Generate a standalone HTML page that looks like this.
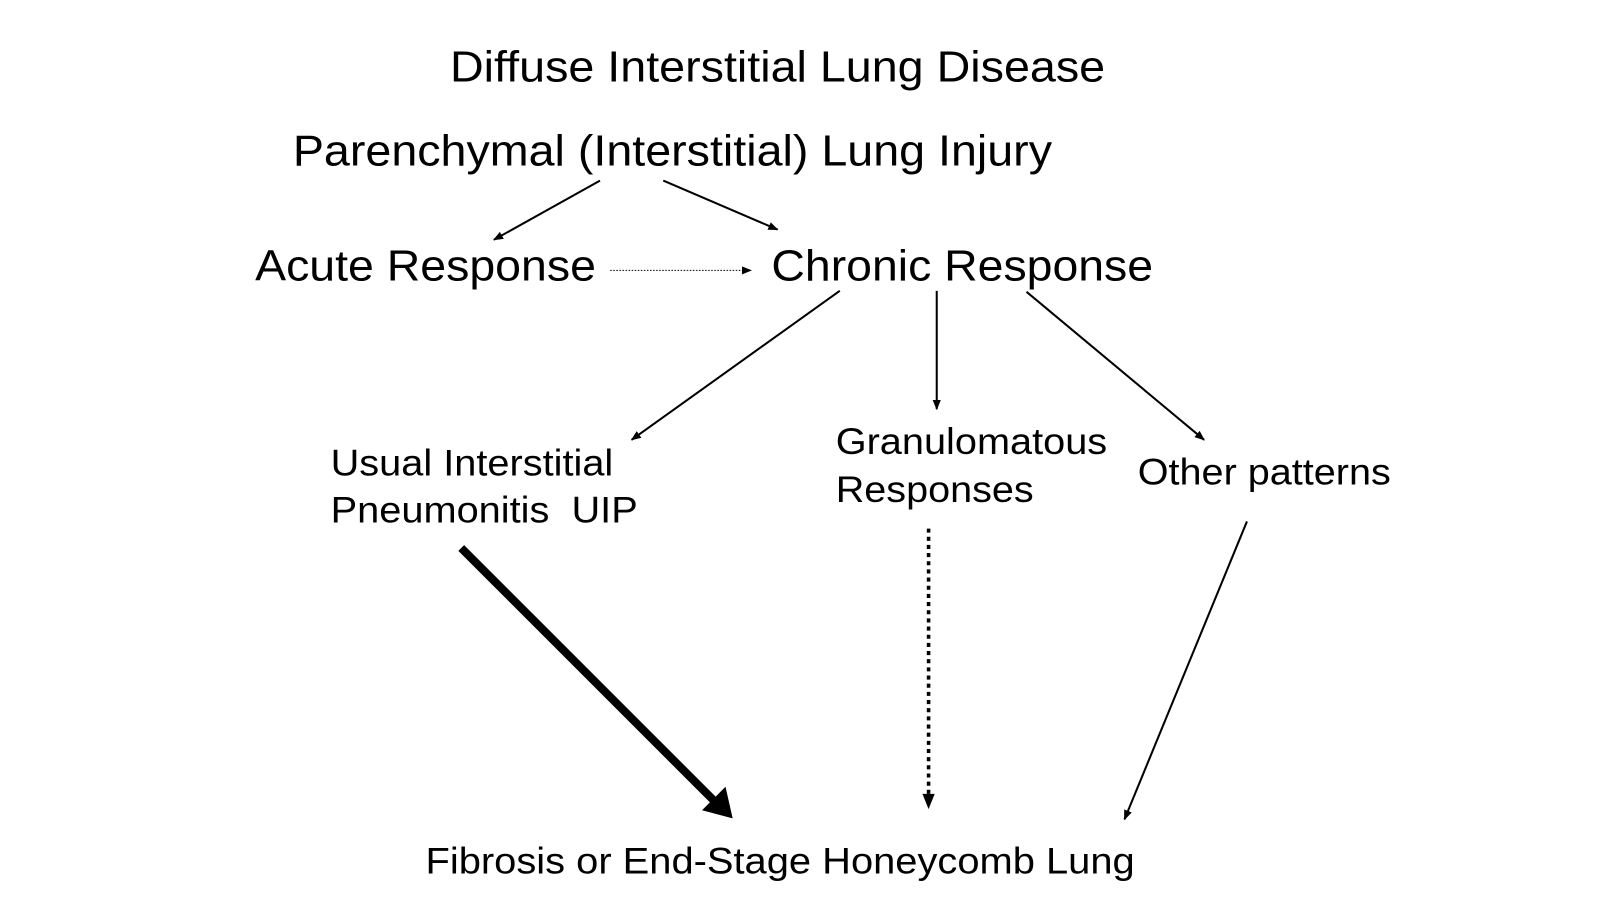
<!DOCTYPE html>
<html><head><meta charset="utf-8"><style>html,body{margin:0;padding:0;background:#fff;width:1600px;height:900px;overflow:hidden}</style></head>
<body>
<svg width="1600" height="900" viewBox="0 0 1568 882" preserveAspectRatio="none" xmlns="http://www.w3.org/2000/svg" font-family="Liberation Sans, Arial, sans-serif" fill="#000">
<defs>
<marker id="a" markerWidth="10" markerHeight="8" refX="9" refY="4" orient="auto" markerUnits="userSpaceOnUse"><path d="M0,0L10,4L0,8z"/></marker>
<marker id="b" markerWidth="12" markerHeight="12" refX="11" refY="6" orient="auto" markerUnits="userSpaceOnUse"><path d="M0,0L12,6L0,12z"/></marker>
</defs>
<g font-size="43">
<text x="441" y="80" textLength="642" lengthAdjust="spacingAndGlyphs">Diffuse Interstitial Lung Disease</text>
<text x="287" y="162" textLength="744" lengthAdjust="spacingAndGlyphs">Parenchymal (Interstitial) Lung Injury</text>
<text x="250" y="275" textLength="334" lengthAdjust="spacingAndGlyphs">Acute Response</text>
<text x="756" y="275" textLength="374" lengthAdjust="spacingAndGlyphs">Chronic Response</text>
</g>
<g font-size="36">
<text x="324" y="466" textLength="277" lengthAdjust="spacingAndGlyphs">Usual Interstitial</text>
<text x="324" y="512" textLength="301" lengthAdjust="spacingAndGlyphs" xml:space="preserve">Pneumonitis  UIP</text>
<text x="819" y="445" textLength="266" lengthAdjust="spacingAndGlyphs">Granulomatous</text>
<text x="819" y="492" textLength="194" lengthAdjust="spacingAndGlyphs">Responses</text>
<text x="1115" y="475" textLength="248" lengthAdjust="spacingAndGlyphs">Other patterns</text>
<text x="417" y="856" textLength="695" lengthAdjust="spacingAndGlyphs">Fibrosis or End-Stage Honeycomb Lung</text>
</g>
<g stroke="#000" fill="none">
<line x1="588" y1="177" x2="484" y2="235" stroke-width="2" marker-end="url(#a)"/>
<line x1="650" y1="177" x2="762" y2="225" stroke-width="2" marker-end="url(#a)"/>
<line x1="598" y1="265" x2="736" y2="265" stroke-width="1" stroke-dasharray="1.5,1.5" marker-end="url(#a)"/>
<line x1="823" y1="285" x2="619" y2="431" stroke-width="2" marker-end="url(#a)"/>
<line x1="918" y1="285" x2="918" y2="401" stroke-width="2" marker-end="url(#a)"/>
<line x1="1006" y1="286" x2="1180" y2="431" stroke-width="2" marker-end="url(#a)"/>
<line x1="452" y1="537" x2="700" y2="785" stroke-width="8"/>
<path d="M718,802 L688,794 L711,771 Z" fill="#000" stroke="none"/>
<line x1="910" y1="518" x2="910" y2="780" stroke-width="3.5" stroke-dasharray="4,4"/>
<path d="M904,778 L916,778 L910,793 Z" fill="#000" stroke="none"/>
<line x1="1222" y1="511" x2="1102" y2="803" stroke-width="2" marker-end="url(#a)"/>
</g>
</svg>
</body></html>
